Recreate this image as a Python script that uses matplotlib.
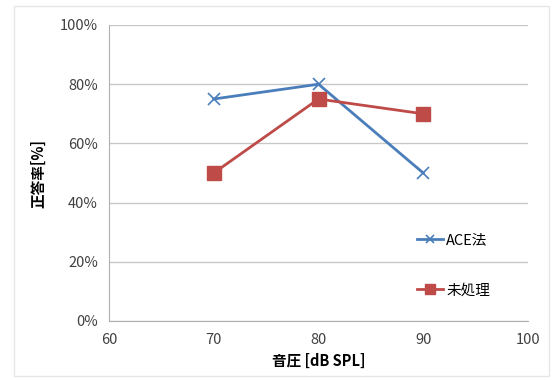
import matplotlib
matplotlib.use('Agg')
import matplotlib.pyplot as plt
from matplotlib.patches import Rectangle
from matplotlib.ticker import PercentFormatter

plt.rcParams['font.family'] = ['Noto Sans CJK JP', 'DejaVu Sans']

spl = [70, 80, 90]  # dB SPL
ace = [75, 80, 50]  # ACE法 正答率 %
raw = [50, 75, 70]  # 未処理 正答率 %
xticks = [60, 70, 80, 90, 100]
yticks = [0, 20, 40, 60, 80, 100]

W, H = 558, 380
fig = plt.figure(figsize=(W / 100, H / 100), dpi=100)
# plot area in pixels: left 109, right 528, top 25, bottom 321
ax = fig.add_axes([109 / W, 1 - 321 / H, (528 - 109) / W, (321 - 25) / H])

# faint chart border
fig.patches.append(Rectangle((14 / W, 4 / H), (549 - 14) / W, (374 - 4) / H,
                             transform=fig.transFigure, fill=False,
                             edgecolor='#e6e6e6', lw=1))

ax.plot(spl, ace, color='#4a7ebb', lw=2, marker='x', ms=8, mew=1.2,
        label='ACE法')
ax.plot(spl, raw, color='#be4b48', lw=2, marker='s', ms=10,
        label='未処理')

ax.set_xlim(60, 100)
ax.set_ylim(0, 100)
ax.set_xticks(xticks)
ax.set_yticks(yticks)
ax.yaxis.set_major_formatter(PercentFormatter(decimals=0))
ax.tick_params(length=0, labelsize=10.5, colors='#404040', pad=8)
ax.tick_params(axis='x', pad=9)
ax.grid(axis='y', color='#c8c8c8', lw=1)
ax.set_axisbelow(True)
for s in ['top', 'right']:
    ax.spines[s].set_visible(False)
for s in ['left', 'bottom']:
    ax.spines[s].set_color('#b0b0b0')

ax.set_xlabel('音圧 [dB SPL]', fontsize=10.5, fontweight='bold', labelpad=4)
ax.set_ylabel('正答率[%]', fontsize=10.5, fontweight='bold', labelpad=10)

ax.legend(loc='upper left', bbox_to_anchor=(404 / W, 1 - 220 / H),
          bbox_transform=fig.transFigure, frameon=False, fontsize=10.5,
          handlelength=1.8, handletextpad=0.2, labelspacing=2.5,
          markerscale=0.7)

fig.savefig('out.png', dpi=100)
